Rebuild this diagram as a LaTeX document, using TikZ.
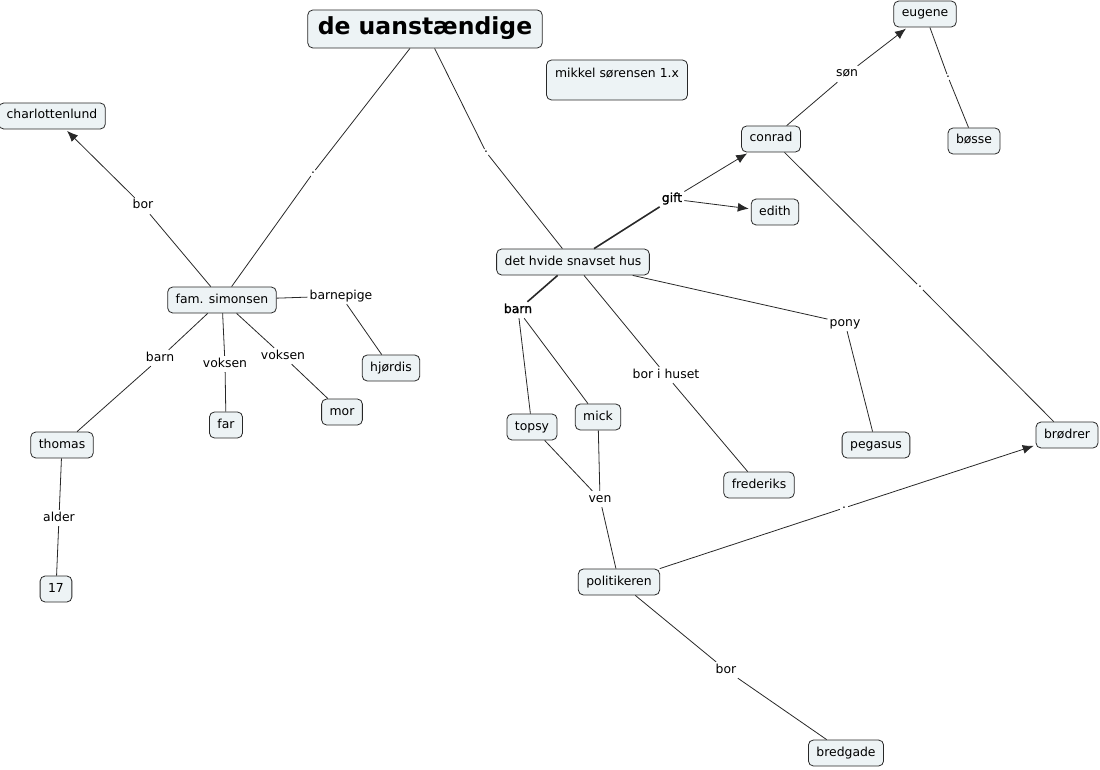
\documentclass[tikz,border=0pt]{standalone}
\usepackage{fontspec}
\setmainfont{DejaVu Sans}
\newfontfamily\heavyfont[FakeBold=1.5]{DejaVu Sans}
\usepackage{tikz}
\usepackage{xcolor}
\usetikzlibrary{arrows.meta}
\definecolor{conceptfill}{RGB}{237,243,245}
\definecolor{edgegray}{RGB}{40,40,40}

\begin{document}
\begin{tikzpicture}[x=1pt,y=-1pt,
  every node/.style={font=\fontsize{12.4}{14}\selectfont},
  concept/.style={draw=edgegray,fill=conceptfill,rounded corners=5pt,line width=0.8pt,
    inner xsep=8pt,inner ysep=7pt,text height=9pt,text depth=3pt},
  phrase/.style={inner sep=2pt,text height=9pt,text depth=3pt},
  dotphrase/.style={inner sep=2pt},
  link/.style={draw=edgegray,line width=0.8pt},
  linkarrow/.style={link,-{Latex[length=11pt,width=9pt]},shorten >=2pt},
  heavylink/.style={draw=edgegray,line width=1.6pt}]
\useasboundingbox (0,0) rectangle (1100,770);
\node[concept,font=\fontsize{23.5}{26}\selectfont\bfseries,inner xsep=10pt,inner ysep=8pt,text height=17pt,text depth=5pt] (title) at (425,29) {de uanstændige};
\node[concept,minimum width=141pt,text height=11pt,text depth=15pt] (note) at (617,80) {mikkel sørensen 1.x};
\node[concept] (charl) at (52,116) {charlottenlund};
\node[concept] (fam) at (222,300) {fam. simonsen};
\node[concept] (hjordis) at (391,368) {hjørdis};
\node[concept] (far) at (226,425) {far};
\node[concept] (mor) at (342,412) {mor};
\node[concept] (thomas) at (62,445) {thomas};
\node[concept] (seventeen) at (56,589) {17};
\node[concept] (hus) at (573,262) {det hvide snavset hus};
\node[concept] (conrad) at (771,139) {conrad};
\node[concept] (edith) at (775,212) {edith};
\node[concept] (eugene) at (925,14) {eugene};
\node[concept] (bosse) at (974,141) {bøsse};
\node[concept] (brodrer) at (1067,435) {brødrer};
\node[concept] (topsy) at (532,427) {topsy};
\node[concept] (mick) at (598,417) {mick};
\node[concept] (frederiks) at (759,485) {frederiks};
\node[concept] (pegasus) at (876,445) {pegasus};
\node[concept] (politikeren) at (619,582) {politikeren};
\node[concept] (bredgade) at (846,753) {bredgade};
\node[dotphrase] (dotfam) at (313,173) {.};
\node[dotphrase] (dothus) at (486,152) {.};
\node[dotphrase] (dotbosse) at (948,77) {.};
\node[dotphrase] (dotbrodrer) at (920,287) {.};
\node[dotphrase] (dotpol) at (844,508) {.};
\node[phrase] (borfam) at (143,206) {bor};
\node[phrase] (barnepige) at (341,296) {barnepige};
\node[phrase] (barnfam) at (160,358) {barn};
\node[phrase] (voksenfar) at (225,364) {voksen};
\node[phrase] (voksenmor) at (283,356) {voksen};
\node[phrase] (alder) at (59,518) {alder};
\node[phrase,font=\fontsize{12.4}{14}\heavyfont] (gift) at (672,199) {gift};
\node[phrase,font=\fontsize{12.4}{14}\heavyfont] (barnhus) at (518,310) {barn};
\node[phrase] (borhuset) at (666,375) {bor i huset};
\node[phrase] (pony) at (845,323) {pony};
\node[phrase] (son) at (847,74) {søn};
\node[phrase] (ven) at (600,499) {ven};
\node[phrase] (borpol) at (726,670) {bor};
\draw[link] (title) -- (dotfam) -- (fam);
\draw[link] (title) -- (dothus) -- (hus);
\draw[link] (fam) -- (borfam);
\draw[linkarrow] (borfam) -- (charl);
\draw[link] (fam) -- (barnepige) -- (hjordis);
\draw[link] (fam) -- (barnfam) -- (thomas);
\draw[link] (fam) -- (voksenfar) -- (far);
\draw[link] (fam) -- (voksenmor) -- (mor);
\draw[link] (thomas) -- (alder) -- (seventeen);
\draw[heavylink] (hus) -- (gift);
\draw[linkarrow] (gift) -- (conrad);
\draw[linkarrow] (gift) -- (edith);
\draw[heavylink] (hus) -- (barnhus);
\draw[link] (barnhus) -- (topsy);
\draw[link] (barnhus) -- (mick);
\draw[link] (hus) -- (borhuset) -- (frederiks);
\draw[link] (hus) -- (pony) -- (pegasus);
\draw[link] (conrad) -- (son);
\draw[linkarrow] (son) -- (eugene);
\draw[link] (eugene) -- (dotbosse) -- (bosse);
\draw[link] (conrad) -- (dotbrodrer) -- (brodrer);
\draw[link] (topsy) -- (ven);
\draw[link] (mick) -- (ven);
\draw[link] (ven) -- (politikeren);
\draw[link] (politikeren) -- (dotpol);
\draw[linkarrow] (dotpol) -- (brodrer);
\draw[link] (politikeren) -- (borpol) -- (bredgade);
\end{tikzpicture}
\end{document}
